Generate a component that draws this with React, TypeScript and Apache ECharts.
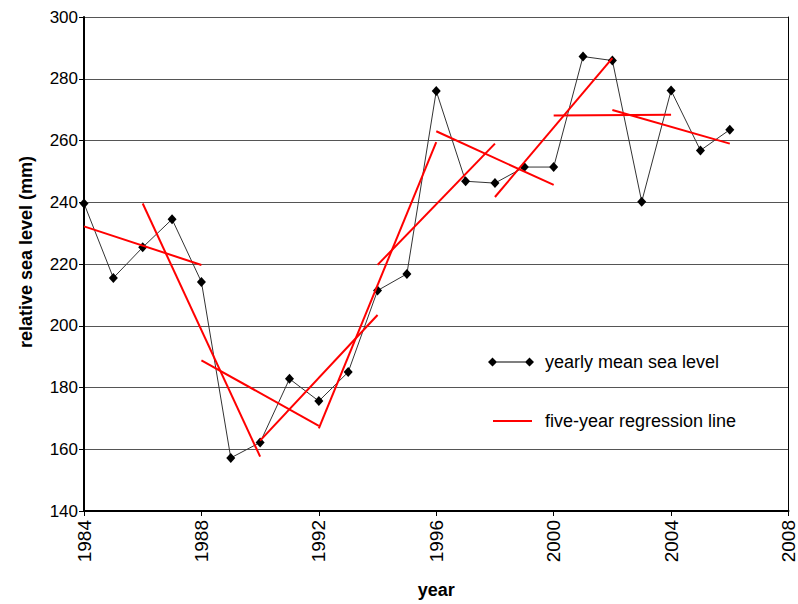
import React, { useEffect, useRef } from "react";
import * as echarts from "echarts";

const years = [1984, 1985, 1986, 1987, 1988, 1989, 1990, 1991, 1992, 1993, 1994, 1995, 1996, 1997, 1998, 1999, 2000, 2001, 2002, 2003, 2004, 2005, 2006];
const seaLevel = [239.6, 215.5, 225.4, 234.5, 214.2, 157.2, 162.2, 182.8, 175.6, 185.0, 211.4, 216.8, 276.0, 246.8, 246.2, 251.4, 251.4, 287.2, 285.9, 240.2, 276.2, 256.8, 263.5];

// five-year regression segments
const regStartYears = [1984, 1986, 1988, 1990, 1992, 1994, 1996, 1998, 2000, 2002];
const regStartValues = [232.2, 239.6, 188.8, 162.8, 166.8, 219.7, 263.0, 241.7, 268.1, 269.9];
const regEndYears = [1988, 1990, 1992, 1994, 1996, 1998, 2000, 2002, 2004, 2006];
const regEndValues = [219.7, 157.6, 167.6, 203.5, 259.5, 259.0, 245.6, 286.7, 268.3, 259.0];

const yTicks = [140, 160, 180, 200, 220, 240, 260, 280, 300];
const xTicks = [1984, 1988, 1992, 1996, 2000, 2004, 2008];

const SERIES_NAME = "yearly mean sea level";
const REG_NAME = "five-year regression line";

export default function App() {
  const ref = useRef<HTMLDivElement>(null);
  useEffect(() => {
    if (!ref.current) return;
    const chart = echarts.init(ref.current, null, { renderer: "svg" });
    const font = "'Liberation Sans', Arial, sans-serif";
    const regSeries = regStartYears.map((y0, i) => ({
      name: REG_NAME,
      type: "line",
      data: [
        [y0, regStartValues[i]],
        [regEndYears[i], regEndValues[i]],
      ],
      symbol: "none",
      lineStyle: { color: "#ff0000", width: 2 },
      itemStyle: { color: "#ff0000" },
      z: 3,
    }));
    chart.setOption({
      animation: false,
      backgroundColor: "#ffffff",
      grid: { left: 84, right: 4, top: 17, bottom: 91, containLabel: false },
      legend: {
        orient: "vertical",
        left: 483,
        top: 348,
        itemGap: 41,
        itemWidth: 46,
        itemHeight: 9,
        textStyle: { fontFamily: font, fontSize: 18, color: "#000", padding: [0, 0, 0, 6] },
        data: [
          {
            name: SERIES_NAME,
            icon: "path://M0,4.5 L4.5,0 L9,4.5 L4.5,9 Z M37,4.5 L41.5,0 L46,4.5 L41.5,9 Z M4,4 L42,4 L42,5 L4,5 Z",
            itemStyle: { color: "#000" },
          },
          {
            name: REG_NAME,
            icon: "path://M0,0 L0,0 Z M46,9 L46,9 Z M5,3.5 L44,3.5 L44,5.5 L5,5.5 Z",
            itemStyle: { color: "#ff0000" },
          },
        ],
      },
      xAxis: {
        type: "value",
        min: xTicks[0],
        max: xTicks[xTicks.length - 1],
        interval: 4,
        name: "year",
        nameLocation: "middle",
        nameGap: 70,
        nameTextStyle: { fontFamily: font, fontSize: 18, fontWeight: "bold", color: "#000" },
        axisLine: { show: true, onZero: false, lineStyle: { color: "#000", width: 2 } },
        axisTick: { show: true, length: 5, lineStyle: { color: "#000", width: 1 } },
        axisLabel: {
          rotate: 90,
          fontFamily: font,
          fontSize: 19,
          color: "#000",
          margin: 9,
          formatter: (v: number) => String(v),
        },
        splitLine: { show: false },
      },
      yAxis: [
        {
          type: "value",
          min: yTicks[0],
          max: yTicks[yTicks.length - 1],
          interval: 20,
          name: "relative sea level (mm)",
          nameLocation: "middle",
          nameGap: 49,
          nameTextStyle: {
            fontFamily: font,
            fontSize: 18,
            fontWeight: "bold",
            color: "#000",
            padding: [0, 0, 0, 24],
          },
          axisLine: { show: true, onZero: false, lineStyle: { color: "#000", width: 2 } },
          axisTick: { show: true, length: 5, lineStyle: { color: "#000", width: 1 } },
          axisLabel: { fontFamily: font, fontSize: 17, color: "#000", margin: 6 },
          splitLine: { show: true, lineStyle: { color: "#555", width: 1 } },
        },
        {
          type: "value",
          position: "right",
          min: yTicks[0],
          max: yTicks[yTicks.length - 1],
          interval: 20,
          axisLine: { show: true, onZero: false, lineStyle: { color: "#000", width: 1 } },
          axisTick: { show: false },
          axisLabel: { show: false },
          splitLine: { show: false },
        },
      ],
      series: [
        {
          name: SERIES_NAME,
          type: "line",
          data: years.map((y, i) => [y, seaLevel[i]]),
          symbol: "diamond",
          symbolSize: [9, 10],
          lineStyle: { color: "#333", width: 1 },
          itemStyle: { color: "#000" },
          z: 2,
        },
        ...regSeries,
      ],
    });
    return () => chart.dispose();
  }, []);
  return (
    <div
      ref={ref}
      style={{ position: "fixed", left: 0, top: 0, width: 798, height: 604 }}
    />
  );
}
